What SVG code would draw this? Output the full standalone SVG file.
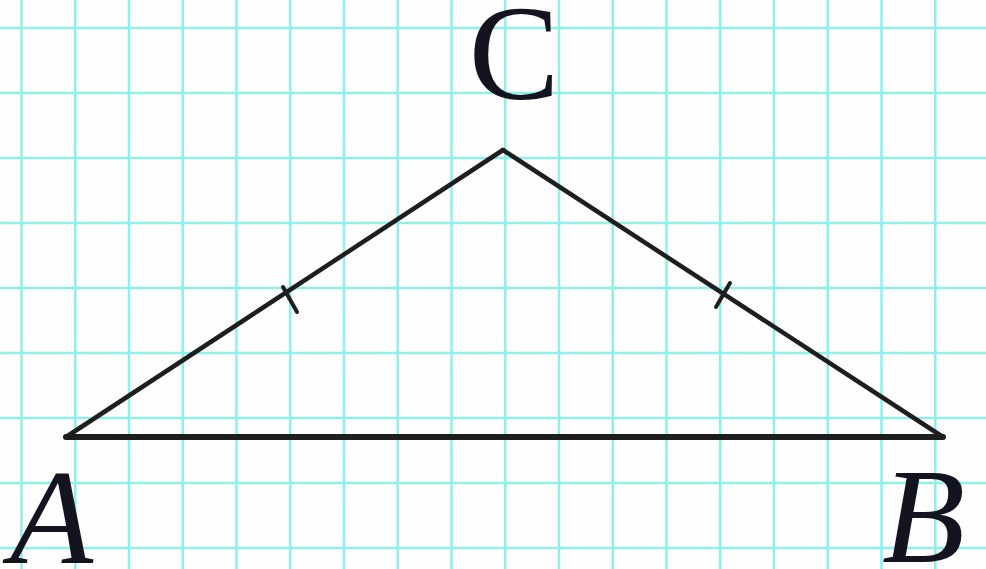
<svg xmlns="http://www.w3.org/2000/svg" width="986" height="569" viewBox="0 0 986 569">
<style>
.grid line{stroke:#8ef0ea;stroke-width:2.5}
.side{stroke:#1e1e1e;stroke-width:4.5;stroke-linecap:round;fill:none}
.base{stroke:#1e1e1e;stroke-width:6;stroke-linecap:round;fill:none}
.tick{stroke:#1e1e1e;stroke-width:4;stroke-linecap:round}
.lbl{font-family:'Liberation Serif', 'Times New Roman', serif;font-size:136px;fill:#141420}
</style>
<rect width="986" height="569" fill="#fefeff"/>
<g class="grid" id="grid">
<line x1="21.5" y1="0" x2="21.5" y2="569"/>
<line x1="75.25" y1="0" x2="75.25" y2="569"/>
<line x1="129" y1="0" x2="129" y2="569"/>
<line x1="182.75" y1="0" x2="182.75" y2="569"/>
<line x1="236.5" y1="0" x2="236.5" y2="569"/>
<line x1="290.25" y1="0" x2="290.25" y2="569"/>
<line x1="344" y1="0" x2="344" y2="569"/>
<line x1="397.75" y1="0" x2="397.75" y2="569"/>
<line x1="451.5" y1="0" x2="451.5" y2="569"/>
<line x1="505.25" y1="0" x2="505.25" y2="569"/>
<line x1="559" y1="0" x2="559" y2="569"/>
<line x1="612.75" y1="0" x2="612.75" y2="569"/>
<line x1="666.5" y1="0" x2="666.5" y2="569"/>
<line x1="720.25" y1="0" x2="720.25" y2="569"/>
<line x1="774" y1="0" x2="774" y2="569"/>
<line x1="827.75" y1="0" x2="827.75" y2="569"/>
<line x1="881.5" y1="0" x2="881.5" y2="569"/>
<line x1="935.25" y1="0" x2="935.25" y2="569"/>
<line x1="0" y1="28" x2="986" y2="28"/>
<line x1="0" y1="93" x2="986" y2="93"/>
<line x1="0" y1="158" x2="986" y2="158"/>
<line x1="0" y1="223" x2="986" y2="223"/>
<line x1="0" y1="288" x2="986" y2="288"/>
<line x1="0" y1="353" x2="986" y2="353"/>
<line x1="0" y1="418" x2="986" y2="418"/>
<line x1="0" y1="483" x2="986" y2="483"/>
<line x1="0" y1="548" x2="986" y2="548"/>
</g>
<g id="connectors">
<line class="side" x1="66" y1="437" x2="503" y2="150"/>
<line class="side" x1="503" y1="150" x2="943" y2="437"/>
<line class="base" x1="66" y1="437" x2="943" y2="437"/>
<line class="tick" x1="283" y1="287" x2="297" y2="312"/>
<line class="tick" x1="730" y1="283" x2="716" y2="307"/>
</g>
<g id="node-C"><text class="lbl" x="514" y="99" text-anchor="middle">C</text></g>
<g id="node-A"><text class="lbl" x="10" y="563" font-style="italic">A</text></g>
<g id="node-B"><text class="lbl" x="882" y="562" font-style="italic">B</text></g>
</svg>
